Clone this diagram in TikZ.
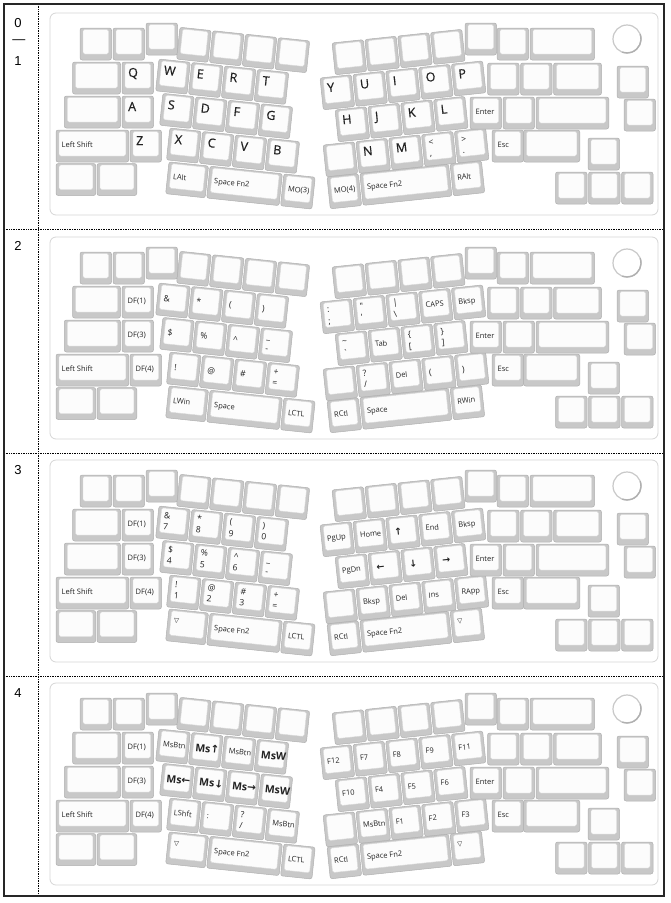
\documentclass[tikz,border=0pt]{standalone}
\usepackage{fontspec}
\setmainfont{Liberation Sans}
\newfontfamily\kf{Open Sans}[Ligatures=TeXOff]
\newfontfamily\kfb{Open Sans}[Ligatures=TeXOff,FakeBold=0.6]
\newfontfamily\af{DejaVu Sans}
\definecolor{cSide}{HTML}{C8C8C8}
\definecolor{cEdge}{HTML}{B0B0B0}
\definecolor{cTop}{HTML}{FCFCFC}
\definecolor{cTopEdge}{HTML}{DADADA}
\definecolor{cTxt}{HTML}{222222}
\definecolor{cPlate}{HTML}{D6D6D6}
\tikzset{
 keyside/.style={fill=cSide,draw=cEdge,line width=0.5pt,rounded corners=2.2pt},
 keytop/.style={fill=cTop,draw=cTopEdge,line width=0.4pt,rounded corners=1.6pt},
 lgbig/.style={anchor=base west,inner sep=0pt,text=cTxt,font=\kfb\fontsize{12.5}{13}\selectfont},
 lgsmall/.style={anchor=base west,inner sep=0pt,text=cTxt,font=\kf\fontsize{7.5}{8}\selectfont},
 lgsym/.style={anchor=base west,inner sep=0pt,text=cTxt,font=\kf\fontsize{8.6}{9}\selectfont},
 lgmouse/.style={anchor=base west,inner sep=0pt,text=cTxt,font=\kf\bfseries\fontsize{10.5}{11}\selectfont},
 lgarrow/.style={anchor=base west,inner sep=0pt,text=cTxt,font=\af\bfseries\fontsize{9.5}{10}\selectfont},
 lgtri/.style={anchor=base west,inner sep=0pt,text=cTxt,font=\af\fontsize{6.5}{7}\selectfont},
 plate/.style={fill=white,draw=cPlate,line width=0.8pt,rounded corners=6pt},
 knob/.style={fill=white,draw=cSide,line width=1.2pt},
 knobshade/.style={draw=cEdge,line width=1.4pt},
 sep/.style={densely dotted,line width=0.7pt},
 frame/.style={draw=black!85,line width=1.4pt},
 rowlab/.style={font=\fontsize{13}{14}\selectfont,inner sep=0pt}
}
% one key: id, x, y, width in units
\newcommand\kk[4]{%
  \pgfmathsetmacro\kw{#4*33-1.5}%
  \path[keyside] (#2,#3) rectangle ++(\kw,32);
  \path[keytop] (#2+3,#3+1.5) rectangle ++(\kw-6,24.5);
  \def\kx{#2}\def\ky{#3}\def\kid{#1}%
  \csname lab\pn#1\endcsname}
\newcommand\LgT[1]{\node[lgbig] (p\pn\kid) at (\kx+6,\ky+15) {#1};}
\newcommand\LgC[1]{\node[lgsmall] (p\pn\kid) at (\kx+5.5,\ky+17) {#1};}
\newcommand\LgS[1]{\node[lgsym] (p\pn\kid) at (\kx+6,\ky+17.5) {#1};}
\newcommand\LgTB[2]{\node[lgsym] (p\pn\kid) at (\kx+6,\ky+11.5) {#1};\node[lgsym] (p\pn\kid b) at (\kx+6,\ky+23) {#2};}
\newcommand\LgM[1]{\node[lgmouse] (p\pn\kid) at (\kx+5,\ky+18.5) {#1};}
\newcommand\LgA[1]{\node[lgarrow] (p\pn\kid) at (\kx+7,\ky+18) {#1};}
\newcommand\LgV[1]{\node[lgtri] (p\pn\kid) at (\kx+6,\ky+13) {#1};}
\newcommand\deflab[3]{\expandafter\def\csname lab#1#2\endcsname{#3}}
% ---------- labels, layer 0/1
\deflab{1}{LS12}{\LgT{Q}}\deflab{1}{LS22}{\LgT{A}}\deflab{1}{LS31}{\LgC{Left Shift}}\deflab{1}{LS32}{\LgT{Z}}
\deflab{1}{LR11}{\LgT{W}}\deflab{1}{LR12}{\LgT{E}}\deflab{1}{LR13}{\LgT{R}}\deflab{1}{LR14}{\LgT{T}}
\deflab{1}{LR21}{\LgT{S}}\deflab{1}{LR22}{\LgT{D}}\deflab{1}{LR23}{\LgT{F}}\deflab{1}{LR24}{\LgT{G}}
\deflab{1}{LR31}{\LgT{X}}\deflab{1}{LR32}{\LgT{C}}\deflab{1}{LR33}{\LgT{V}}\deflab{1}{LR34}{\LgT{B}}
\deflab{1}{LR41}{\LgC{LAlt}}\deflab{1}{LR42}{\LgC{Space Fn2}}\deflab{1}{LR43}{\LgC{MO(3)}}
\deflab{1}{RR11}{\LgT{Y}}\deflab{1}{RR12}{\LgT{U}}\deflab{1}{RR13}{\LgT{I}}\deflab{1}{RR14}{\LgT{O}}\deflab{1}{RR15}{\LgT{P}}
\deflab{1}{RR21}{\LgT{H}}\deflab{1}{RR22}{\LgT{J}}\deflab{1}{RR23}{\LgT{K}}\deflab{1}{RR24}{\LgT{L}}
\deflab{1}{RR32}{\LgT{N}}\deflab{1}{RR33}{\LgT{M}}\deflab{1}{RR34}{\LgTB{<}{,}}\deflab{1}{RR35}{\LgTB{>}{.}}
\deflab{1}{RR41}{\LgC{MO(4)}}\deflab{1}{RR42}{\LgC{Space Fn2}}\deflab{1}{RR43}{\LgC{RAlt}}
\deflab{1}{RS21}{\LgC{Enter}}\deflab{1}{RS31}{\LgC{Esc}}
% ---------- layer 2
\deflab{2}{LS12}{\LgC{DF(1)}}\deflab{2}{LS22}{\LgC{DF(3)}}\deflab{2}{LS31}{\LgC{Left Shift}}\deflab{2}{LS32}{\LgC{DF(4)}}
\deflab{2}{LR11}{\LgS{\&}}\deflab{2}{LR12}{\LgS{*}}\deflab{2}{LR13}{\LgS{(}}\deflab{2}{LR14}{\LgS{)}}
\deflab{2}{LR21}{\LgS{\$}}\deflab{2}{LR22}{\LgS{\%}}\deflab{2}{LR23}{\LgS{\textasciicircum}}\deflab{2}{LR24}{\LgTB{\_}{-}}
\deflab{2}{LR31}{\LgS{!}}\deflab{2}{LR32}{\LgS{@}}\deflab{2}{LR33}{\LgS{\#}}\deflab{2}{LR34}{\LgTB{+}{=}}
\deflab{2}{LR41}{\LgC{LWin}}\deflab{2}{LR42}{\LgC{Space}}\deflab{2}{LR43}{\LgC{LCTL}}
\deflab{2}{RR11}{\LgTB{:}{;}}\deflab{2}{RR12}{\LgTB{"}{'}}\deflab{2}{RR13}{\LgTB{|}{\textbackslash}}\deflab{2}{RR14}{\LgC{CAPS}}\deflab{2}{RR15}{\LgC{Bksp}}
\deflab{2}{RR21}{\LgTB{\textasciitilde}{\textasciigrave}}\deflab{2}{RR22}{\LgC{Tab}}\deflab{2}{RR23}{\LgTB{\{}{[}}\deflab{2}{RR24}{\LgTB{\}}{]}}
\deflab{2}{RR32}{\LgTB{?}{/}}\deflab{2}{RR33}{\LgC{Del}}\deflab{2}{RR34}{\LgS{(}}\deflab{2}{RR35}{\LgS{)}}
\deflab{2}{RR41}{\LgC{RCtl}}\deflab{2}{RR42}{\LgC{Space}}\deflab{2}{RR43}{\LgC{RWin}}
\deflab{2}{RS21}{\LgC{Enter}}\deflab{2}{RS31}{\LgC{Esc}}
% ---------- layer 3
\deflab{3}{LS12}{\LgC{DF(1)}}\deflab{3}{LS22}{\LgC{DF(3)}}\deflab{3}{LS31}{\LgC{Left Shift}}\deflab{3}{LS32}{\LgC{DF(4)}}
\deflab{3}{LR11}{\LgTB{\&}{7}}\deflab{3}{LR12}{\LgTB{*}{8}}\deflab{3}{LR13}{\LgTB{(}{9}}\deflab{3}{LR14}{\LgTB{)}{0}}
\deflab{3}{LR21}{\LgTB{\$}{4}}\deflab{3}{LR22}{\LgTB{\%}{5}}\deflab{3}{LR23}{\LgTB{\textasciicircum}{6}}\deflab{3}{LR24}{\LgTB{\_}{-}}
\deflab{3}{LR31}{\LgTB{!}{1}}\deflab{3}{LR32}{\LgTB{@}{2}}\deflab{3}{LR33}{\LgTB{\#}{3}}\deflab{3}{LR34}{\LgTB{+}{=}}
\deflab{3}{LR41}{\LgV{▽}}\deflab{3}{LR42}{\LgC{Space Fn2}}\deflab{3}{LR43}{\LgC{LCTL}}
\deflab{3}{RR11}{\LgC{PgUp}}\deflab{3}{RR12}{\LgC{Home}}\deflab{3}{RR13}{\LgA{↑}}\deflab{3}{RR14}{\LgC{End}}\deflab{3}{RR15}{\LgC{Bksp}}
\deflab{3}{RR21}{\LgC{PgDn}}\deflab{3}{RR22}{\LgA{←}}\deflab{3}{RR23}{\LgA{↓}}\deflab{3}{RR24}{\LgA{→}}
\deflab{3}{RR32}{\LgC{Bksp}}\deflab{3}{RR33}{\LgC{Del}}\deflab{3}{RR34}{\LgC{Ins}}\deflab{3}{RR35}{\LgC{RApp}}
\deflab{3}{RR41}{\LgC{RCtl}}\deflab{3}{RR42}{\LgC{Space Fn2}}\deflab{3}{RR43}{\LgV{▽}}
\deflab{3}{RS21}{\LgC{Enter}}\deflab{3}{RS31}{\LgC{Esc}}
% ---------- layer 4
\deflab{4}{LS12}{\LgC{DF(1)}}\deflab{4}{LS22}{\LgC{DF(3)}}\deflab{4}{LS31}{\LgC{Left Shift}}\deflab{4}{LS32}{\LgC{DF(4)}}
\deflab{4}{LR11}{\LgC{MsBtn}}\deflab{4}{LR12}{\LgM{Ms{\af↑}}}\deflab{4}{LR13}{\LgC{MsBtn}}\deflab{4}{LR14}{\LgM{MsW}}
\deflab{4}{LR21}{\LgM{Ms{\af←}}}\deflab{4}{LR22}{\LgM{Ms{\af↓}}}\deflab{4}{LR23}{\LgM{Ms{\af→}}}\deflab{4}{LR24}{\LgM{MsW}}
\deflab{4}{LR31}{\LgC{LShft}}\deflab{4}{LR32}{\LgC{:}}\deflab{4}{LR33}{\LgTB{?}{/}}\deflab{4}{LR34}{\LgC{MsBtn}}
\deflab{4}{LR41}{\LgV{▽}}\deflab{4}{LR42}{\LgC{Space Fn2}}\deflab{4}{LR43}{\LgC{LCTL}}
\deflab{4}{RR11}{\LgC{F12}}\deflab{4}{RR12}{\LgC{F7}}\deflab{4}{RR13}{\LgC{F8}}\deflab{4}{RR14}{\LgC{F9}}\deflab{4}{RR15}{\LgC{F11}}
\deflab{4}{RR21}{\LgC{F10}}\deflab{4}{RR22}{\LgC{F4}}\deflab{4}{RR23}{\LgC{F5}}\deflab{4}{RR24}{\LgC{F6}}
\deflab{4}{RR32}{\LgC{MsBtn}}\deflab{4}{RR33}{\LgC{F1}}\deflab{4}{RR34}{\LgC{F2}}\deflab{4}{RR35}{\LgC{F3}}
\deflab{4}{RR41}{\LgC{RCtl}}\deflab{4}{RR42}{\LgC{Space Fn2}}\deflab{4}{RR43}{\LgV{▽}}
\deflab{4}{RS21}{\LgC{Enter}}\deflab{4}{RS31}{\LgC{Esc}}
% ---------- the keyboard
\newcommand\board{%
  \path[plate] (50,13) rectangle (658,215);
  % left fixed block
  \kk{LS01}{80}{28}{1}\kk{LS02}{113}{28}{1}\kk{LS0R}{146}{23}{1}
  \kk{LS11}{72.5}{62}{1.5}\kk{LS12}{122}{62}{1}
  \kk{LS21}{64.25}{96}{1.75}\kk{LS22}{122}{96}{1}
  \kk{LS31}{56}{130}{2.25}\kk{LS32}{130}{130}{1}
  \kk{LS41}{56}{163.5}{1.25}\kk{LS42}{97}{163.5}{1.25}
  % left rotated block
  \begin{scope}[shift={(159,59)},rotate=-6,transform shape]
    \kk{LR01}{17.5}{-33.75}{1}\kk{LR02}{50.5}{-33.75}{1}\kk{LR03}{83.5}{-33.75}{1}\kk{LR04}{116.5}{-33.75}{1}
    \kk{LR11}{0}{0}{1}\kk{LR12}{33}{0}{1}\kk{LR13}{66}{0}{1}\kk{LR14}{99}{0}{1}
    \kk{LR21}{7.5}{33.75}{1}\kk{LR22}{40.5}{33.75}{1}\kk{LR23}{73.5}{33.75}{1}\kk{LR24}{106.5}{33.75}{1}
    \kk{LR31}{18}{67.5}{1}\kk{LR32}{51}{67.5}{1}\kk{LR33}{84}{67.5}{1}\kk{LR34}{117}{67.5}{1}
    \kk{LR41}{20.7}{101.25}{1.25}\kk{LR42}{61.95}{101.25}{2.25}\kk{LR43}{136.2}{101.25}{1}
  \end{scope}
  % right rotated block
  \begin{scope}[shift={(320,78)},rotate=6,transform shape]
    \kk{RR01}{15.6}{-33.6}{1}\kk{RR02}{48.6}{-33.6}{1}\kk{RR03}{81.6}{-33.6}{1}\kk{RR04}{114.6}{-33.6}{1}
    \kk{RR11}{0}{0}{1}\kk{RR12}{33}{0}{1}\kk{RR13}{66}{0}{1}\kk{RR14}{99}{0}{1}\kk{RR15}{132}{0}{1}
    \kk{RR21}{11.6}{33.4}{1}\kk{RR22}{44.6}{33.4}{1}\kk{RR23}{77.6}{33.4}{1}\kk{RR24}{110.6}{33.4}{1}
    \kk{RR31}{-4}{67}{1}\kk{RR32}{29}{67}{1}\kk{RR33}{62}{67}{1}\kk{RR34}{95}{67}{1}\kk{RR35}{128}{67}{1}
    \kk{RR41}{-3.4}{99.2}{1}\kk{RR42}{29.6}{99.2}{2.75}\kk{RR43}{120.35}{99.2}{1}
  \end{scope}
  % right fixed block
  \kk{RS01}{465}{23}{1}\kk{RS02}{497}{28}{1}\kk{RS03}{530}{28}{2}
  \path[knob] (627,39) circle[radius=14];
  \draw[knobshade] (627,39) ++(-20:14) arc[start angle=-20,end angle=110,radius=14];
  \kk{RS11}{487.5}{63}{1}\kk{RS12}{520.5}{63}{1}\kk{RS13}{553.5}{63}{1.5}\kk{RS1X}{617}{66}{1}
  \kk{RS21}{470}{97}{1}\kk{RS22}{503}{97}{1}\kk{RS23}{536}{97}{2.25}\kk{RS2X}{624}{99}{1}
  \kk{RS31}{492}{130}{1}\kk{RS32}{523.5}{130}{1.75}
  \kk{RS3U}{588}{138}{1}
  \kk{RS41}{555.5}{172}{1}\kk{RS42}{588.5}{172}{1}\kk{RS43}{621.5}{172}{1}
}
\begin{document}
\begin{tikzpicture}[x=1pt,y=-1pt]
  \useasboundingbox (0,0) rectangle (671,903);
  \fill[white] (0,0) rectangle (671,903);
  \foreach \pn/\dy in {1/0,2/224,3/447,4/670}{
    \begin{scope}[shift={(0,\dy)}]
      \board
    \end{scope}
  }
  % layer column
  \node[rowlab] (n0) at (18,23) {0};
  \node[rowlab] (nd) at (19,42) {—};
  \node[rowlab] (n1) at (18,61) {1};
  \node[rowlab] (n2) at (18,246) {2};
  \node[rowlab] (n3) at (18,470) {3};
  \node[rowlab] (n4) at (18,693) {4};
  % separators and frame
  \draw[sep] (38,4) -- (38,896);
  \foreach \yy in {229,453,676}{\draw[sep] (4,\yy) -- (664,\yy);}
  \draw[frame] (4,4) rectangle (664,896);
\end{tikzpicture}
\end{document}
